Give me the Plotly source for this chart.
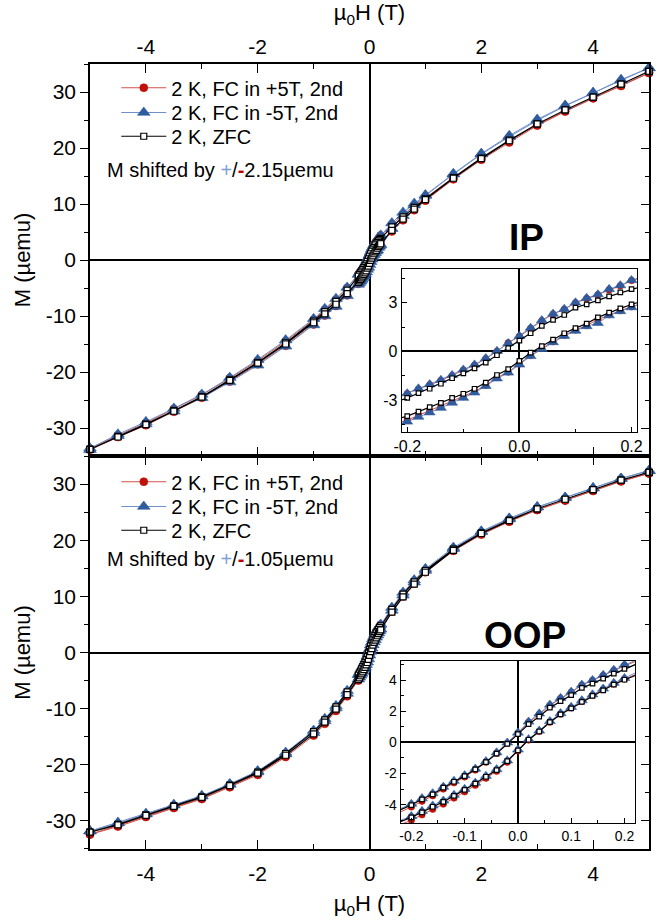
import plotly.graph_objects as go

# ---- field sweeps (T): descending branch +5 -> -5, ascending branch -5 -> +5
H_DOWN = [5, 4.5, 4, 3.5, 3, 2.5, 2, 1.5, 1, 0.8, 0.6, 0.4,
          0.2, 0.18, 0.16, 0.14, 0.12, 0.1, 0.08, 0.06, 0.04, 0.02, 0,
          -0.02, -0.04, -0.06, -0.08, -0.1, -0.12, -0.14, -0.16, -0.18, -0.2,
          -0.4, -0.6, -0.8, -1, -1.5, -2, -2.5, -3, -3.5, -4, -4.5, -5]
H_UP = [-5, -4.5, -4, -3.5, -3, -2.5, -2, -1.5, -1, -0.8, -0.6, -0.4,
        -0.2, -0.18, -0.16, -0.14, -0.12, -0.1, -0.08, -0.06, -0.04, -0.02, 0,
        0.02, 0.04, 0.06, 0.08, 0.1, 0.12, 0.14, 0.16, 0.18, 0.2,
        0.4, 0.6, 0.8, 1, 1.5, 2, 2.5, 3, 3.5, 4, 4.5, 5]

# ---- in-plane (IP) magnetization, µemu
IP_FCP_DOWN = [33.4, 31.1, 28.9, 26.6, 24.1, 21.3, 18.1, 14.7, 11.1, 9.7, 8.1, 6.3,
               4.38, 4.05, 3.8, 3.5, 3.27, 3.0, 2.6, 2.3, 1.89, 1.42, 0.93,
               0.53, 0.0, -0.45, -0.85, -1.16, -1.5, -1.8, -2.07, -2.33, -2.62,
               -5.0, -7.1, -8.9, -10.7, -14.5, -18.0, -21.1, -24.1, -26.6, -29.1, -31.3, -33.7]
IP_FCP_UP = [-33.9, -31.6, -29.5, -27.1, -24.6, -21.7, -18.6, -15.3, -11.5, -9.9, -8.2, -6.3,
             -4.25, -3.95, -3.68, -3.4, -3.1, -2.8, -2.48, -2.1, -1.62, -1.28, -0.78,
             -0.25, 0.18, 0.6, 1.0, 1.32, 1.6, 1.97, 2.27, 2.52, 2.76,
             5.1, 7.1, 8.9, 10.6, 14.4, 17.9, 21.0, 24.0, 26.5, 28.9, 31.1, 33.4]
IP_FCM_DOWN = [34.3, 32.1, 29.9, 27.6, 25.1, 22.2, 19.0, 15.4, 11.6, 10.1, 8.5, 6.6,
               4.4, 4.08, 3.85, 3.52, 3.3, 3.02, 2.62, 2.32, 1.92, 1.45, 0.95,
               0.5, 0.02, -0.43, -0.82, -1.13, -1.47, -1.77, -2.04, -2.3, -2.6,
               -4.9, -6.9, -8.7, -10.5, -14.3, -17.8, -21.0, -24.0, -26.5, -28.9, -31.1, -33.6]
IP_FCM_UP = [-33.9, -31.4, -29.3, -27.0, -24.6, -21.8, -18.8, -15.4, -11.6, -10.0, -8.3, -6.4,
             -4.35, -4.05, -3.78, -3.5, -3.18, -2.88, -2.55, -2.15, -1.68, -1.32, -0.82,
             -0.3, 0.14, 0.56, 0.95, 1.27, 1.55, 1.75, 2.22, 2.48, 2.72,
             5.6, 7.9, 9.8, 11.5, 15.3, 18.9, 22.0, 24.9, 27.5, 29.8, 32.2, 34.3]
IP_ZFC_DOWN = [33.7, 31.4, 29.1, 26.8, 24.3, 21.4, 18.2, 14.7, 10.9, 9.4, 7.7, 5.9,
               3.85, 3.65, 3.4, 3.15, 2.9, 2.7, 2.25, 1.95, 1.58, 1.12, 0.67,
               0.2, -0.24, -0.69, -1.05, -1.36, -1.66, -2.0, -2.31, -2.58, -2.88,
               -5.4, -7.4, -9.2, -10.9, -14.8, -18.3, -21.4, -24.4, -26.9, -29.3, -31.5, -33.8]
IP_ZFC_UP = [-33.8, -31.6, -29.4, -27.0, -24.5, -21.5, -18.4, -15.0, -11.2, -9.6, -7.9, -6.0,
             -4.0, -3.73, -3.45, -3.18, -2.88, -2.62, -2.31, -1.93, -1.46, -1.1, -0.59,
             -0.08, 0.32, 0.73, 1.12, 1.44, 1.72, 2.1, 2.4, 2.66, 2.9,
             5.3, 7.3, 9.1, 10.8, 14.6, 18.1, 21.3, 24.3, 26.8, 29.1, 31.4, 33.7]

# ---- out-of-plane (OOP) magnetization, µemu
OOP_FCP_DOWN = [31.9, 30.5, 28.8, 27.1, 25.4, 23.4, 21.1, 18.3, 14.6, 12.7, 10.5, 7.8,
                4.95, 4.62, 4.3, 3.98, 3.68, 3.22, 2.82, 2.38, 1.8, 1.3, 0.6,
                -0.05, -0.7, -1.28, -1.78, -2.22, -2.6, -3.0, -3.43, -3.78, -4.15,
                -7.3, -10.0, -12.3, -14.4, -18.4, -21.6, -23.9, -26.0, -27.6, -29.2, -30.9, -32.4]
OOP_FCP_UP = [-32.4, -31.0, -29.3, -27.7, -26.1, -24.0, -21.8, -18.6, -14.8, -12.7, -10.4, -7.8,
              -5.0, -4.66, -4.3, -3.97, -3.58, -3.18, -2.76, -2.3, -1.86, -1.27, -0.55,
              0.15, 0.7, 1.3, 1.82, 2.22, 2.65, 3.03, 3.4, 3.76, 4.07,
              7.3, 10.0, 12.3, 14.3, 18.1, 21.0, 23.3, 25.4, 27.1, 28.8, 30.5, 31.9]
OOP_FCM_DOWN = [32.4, 31.0, 29.3, 27.6, 25.9, 23.9, 21.6, 18.7, 14.9, 12.9, 10.7, 8.0,
                5.0, 4.66, 4.33, 4.0, 3.7, 3.25, 2.85, 2.42, 1.85, 1.33, 0.62,
                -0.02, -0.65, -1.22, -1.7, -2.12, -2.48, -2.86, -3.28, -3.6, -3.96,
                -6.8, -9.5, -11.8, -13.9, -17.8, -21.1, -23.4, -25.5, -27.1, -28.7, -30.3, -31.8]
OOP_FCM_UP = [-31.8, -30.4, -28.8, -27.2, -25.6, -23.5, -21.3, -18.1, -14.3, -12.2, -9.9, -7.3,
              -4.75, -4.42, -4.07, -3.75, -3.38, -3.0, -2.6, -2.16, -1.73, -1.17, -0.47,
              0.2, 0.75, 1.36, 1.87, 2.27, 2.7, 3.08, 3.45, 3.82, 4.13,
              7.5, 10.2, 12.5, 14.6, 18.5, 21.5, 23.8, 25.9, 27.6, 29.3, 31.0, 32.4]
OOP_ZFC_DOWN = [32.1, 30.7, 29.0, 27.3, 25.6, 23.6, 21.3, 18.4, 14.6, 12.6, 10.4, 7.7,
                4.73, 4.42, 4.1, 3.78, 3.5, 3.04, 2.65, 2.23, 1.66, 1.17, 0.53,
                -0.1, -0.72, -1.27, -1.74, -2.17, -2.53, -2.91, -3.34, -3.66, -4.03,
                -7.0, -9.7, -12.0, -14.1, -18.0, -21.3, -23.6, -25.7, -27.3, -28.9, -30.6, -32.0]
OOP_ZFC_UP = [-32.0, -30.7, -29.0, -27.4, -25.8, -23.7, -21.5, -18.3, -14.5, -12.4, -10.1, -7.5,
              -4.82, -4.5, -4.14, -3.82, -3.44, -3.06, -2.65, -2.21, -1.78, -1.21, -0.51,
              0.17, 0.7, 1.3, 1.8, 2.19, 2.61, 2.99, 3.35, 3.72, 4.03,
              7.2, 9.9, 12.2, 14.3, 18.2, 21.2, 23.5, 25.6, 27.3, 29.0, 30.7, 32.1]

SERIES_NAMES = ["2 K, FC in +5T, 2nd", "2 K, FC in -5T, 2nd", "2 K, ZFC"]
SHIFT_IP = "2.15"
SHIFT_OOP = "1.05"

# ---- tick values and labels
MAIN_X_TICKS = [-4, -2, 0, 2, 4]
MAIN_X_LABELS = ["-4", "-2", "0", "2", "4"]
MAIN_Y_TICKS = [-30, -20, -10, 0, 10, 20, 30]
MAIN_Y_LABELS = ["-30", "-20", "-10", "0", "10", "20", "30"]
IP_IN_X_TICKS = [-0.2, 0.0, 0.2]
IP_IN_X_LABELS = ["-0.2", "0.0", "0.2"]
IP_IN_Y_TICKS = [-3, 0, 3]
IP_IN_Y_LABELS = ["-3", "0", "3"]
OOP_IN_X_TICKS = [-0.2, -0.1, 0.0, 0.1, 0.2]
OOP_IN_X_LABELS = ["-0.2", "-0.1", "0.0", "0.1", "0.2"]
OOP_IN_Y_TICKS = [-4, -2, 0, 2, 4]
OOP_IN_Y_LABELS = ["-4", "-2", "0", "2", "4"]

FONT = "Liberation Sans, Arial, sans-serif"
RED, RED_LINE = "#C0100A", "#D6504A"
BLUE, BLUE_LINE = "#2F5C9E", "#6F90CC"

STYLES = [
    dict(marker=dict(symbol="circle", size=8, color=RED, line=dict(width=0.6, color=RED)),
         line=dict(color=RED_LINE, width=1)),
    dict(marker=dict(symbol="triangle-up", size=11, color=BLUE, line=dict(width=0.6, color=BLUE)),
         line=dict(color=BLUE_LINE, width=1)),
    dict(marker=dict(symbol="square", size=6, color="white", line=dict(width=1.2, color="black")),
         line=dict(color="black", width=1.2)),
]

# one single-entry legend per series so the rows sit at the chosen spacing
IP_LEGENDS = ["legend", "legend3", "legend4"]
OOP_LEGENDS = ["legend2", "legend5", "legend6"]

fig = go.Figure()


def add_loops(loops, xa, ya, legends, showlegend, main):
    for (m_down, m_up), style, name, lg in zip(loops, STYLES, SERIES_NAMES, legends):
        mk = dict(style["marker"])
        if not main:
            mk["size"] = mk["size"] - 1.5
        fig.add_trace(go.Scatter(
            x=H_DOWN + H_UP, y=m_down + m_up, mode="lines+markers",
            name=name, marker=mk, line=style["line"],
            xaxis=xa, yaxis=ya, legend=lg, showlegend=showlegend,
            cliponaxis=not main, hoverinfo="skip"))


IP_LOOPS = [(IP_FCP_DOWN, IP_FCP_UP), (IP_FCM_DOWN, IP_FCM_UP), (IP_ZFC_DOWN, IP_ZFC_UP)]
OOP_LOOPS = [(OOP_FCP_DOWN, OOP_FCP_UP), (OOP_FCM_DOWN, OOP_FCM_UP), (OOP_ZFC_DOWN, OOP_ZFC_UP)]

add_loops(IP_LOOPS, "x", "y", IP_LEGENDS, True, True)
add_loops(OOP_LOOPS, "x2", "y2", OOP_LEGENDS, True, True)
add_loops(IP_LOOPS, "x3", "y3", IP_LEGENDS, False, False)
add_loops(OOP_LOOPS, "x4", "y4", OOP_LEGENDS, False, False)

# empty traces carrying the inward right-hand tick axes
fig.add_trace(go.Scatter(x=[], y=[], xaxis="x", yaxis="y5", showlegend=False))
fig.add_trace(go.Scatter(x=[], y=[], xaxis="x2", yaxis="y6", showlegend=False))

TICKFONT = dict(family=FONT, size=21, color="black")
TITLEFONT = dict(family=FONT, size=22, color="black")

split = 0.5006
common_main = dict(showgrid=False, zeroline=True, zerolinecolor="black", zerolinewidth=1.8,
                   showline=True, linecolor="black", linewidth=1.5, tickfont=TICKFONT,
                   tickcolor="black", tickwidth=1.2)

xmain = dict(common_main, range=[-5, 5], tickmode="array", tickvals=MAIN_X_TICKS,
             ticktext=MAIN_X_LABELS, ticks="inside", ticklen=9, mirror="ticks",
             minor=dict(dtick=1, tick0=0, ticks="inside", ticklen=5, tickcolor="black"))
ymain = dict(common_main, range=[-35, 35], tickmode="array", tickvals=MAIN_Y_TICKS,
             ticktext=MAIN_Y_LABELS, ticks="outside", ticklen=8, mirror=True,
             title=dict(text="M (µemu)", font=TITLEFONT, standoff=9),
             minor=dict(dtick=5, tick0=0, ticks="outside", ticklen=4, tickcolor="black"))
yright = dict(range=[-35, 35], tickmode="array", tickvals=MAIN_Y_TICKS, ticks="inside",
              ticklen=8, tickcolor="black", tickwidth=1.2, showticklabels=False,
              showgrid=False, zeroline=False, showline=False, side="right",
              minor=dict(dtick=5, tick0=0, ticks="inside", ticklen=4, tickcolor="black"))

common_in = dict(showgrid=False, zeroline=True, zerolinecolor="black", zerolinewidth=1.6,
                 showline=True, linecolor="black", linewidth=1, mirror=True,
                 ticks="inside", ticklen=5, tickcolor="black", tickwidth=1)

LEGEND_FONT = dict(family=FONT, size=20, color="black")


def legend_at(ypix):
    return dict(x=0.047, y=(852 - ypix) / 793, xanchor="left", yanchor="middle",
                bgcolor="rgba(0,0,0,0)", font=LEGEND_FONT, itemwidth=45,
                tracegroupgap=0)


fig.update_layout(
    width=666, height=923,
    margin=dict(l=90, r=11, t=59, b=71),
    paper_bgcolor="white", plot_bgcolor="white",
    font=dict(family=FONT, color="black"),
    xaxis=dict(xmain, domain=[0, 1], anchor="y", side="top",
               title=dict(text="µ<sub>0</sub>H (T)", font=TITLEFONT, standoff=8)),
    yaxis=dict(ymain, domain=[split, 1], anchor="x"),
    xaxis2=dict(xmain, domain=[0, 1], anchor="y2", side="bottom", ticklabelstandoff=5,
                title=dict(text="µ<sub>0</sub>H (T)", font=TITLEFONT, standoff=12)),
    yaxis2=dict(ymain, domain=[0, split], anchor="x2"),
    yaxis5=dict(yright, overlaying="y", anchor="x"),
    yaxis6=dict(yright, overlaying="y2", anchor="x2"),
    xaxis3=dict(common_in, domain=[0.5575, 0.9788], anchor="y3", range=[-0.21, 0.21],
                tickmode="array", tickvals=IP_IN_X_TICKS, ticktext=IP_IN_X_LABELS,
                tickfont=dict(family=FONT, size=16, color="black"),
                minor=dict(dtick=0.1, tick0=0, ticks="inside", ticklen=3, tickcolor="black")),
    yaxis3=dict(common_in, domain=[0.5309, 0.739], anchor="x3", range=[-5.0, 5.1],
                tickmode="array", tickvals=IP_IN_Y_TICKS, ticktext=IP_IN_Y_LABELS,
                tickfont=dict(family=FONT, size=16, color="black"),
                minor=dict(dtick=1.5, tick0=0, ticks="inside", ticklen=3, tickcolor="black")),
    xaxis4=dict(common_in, domain=[0.5558, 0.9752], anchor="y4", range=[-0.22, 0.22],
                tickmode="array", tickvals=OOP_IN_X_TICKS, ticktext=OOP_IN_X_LABELS,
                tickfont=dict(family=FONT, size=14, color="black"),
                minor=dict(dtick=0.05, tick0=0, ticks="inside", ticklen=3, tickcolor="black")),
    yaxis4=dict(common_in, domain=[0.0328, 0.2396], anchor="x4", range=[-5.2, 5.24],
                tickmode="array", tickvals=OOP_IN_Y_TICKS, ticktext=OOP_IN_Y_LABELS,
                tickfont=dict(family=FONT, size=14, color="black"),
                minor=dict(dtick=1, tick0=0, ticks="inside", ticklen=3, tickcolor="black")),
    legend=legend_at(83),
    legend3=legend_at(108),
    legend4=legend_at(132),
    legend2=legend_at(481),
    legend5=legend_at(506),
    legend6=legend_at(530),
    showlegend=True,
)

PLUS = '<span style="color:#7F9FD4">+</span>'
MINUS = '<span style="color:#C00000"><b>-</b></span>'
for shift, ypix in [(SHIFT_IP, 166), (SHIFT_OOP, 559)]:
    fig.add_annotation(xref="paper", yref="paper", x=0.026, y=(852 - ypix) / 793,
                       xanchor="left", yanchor="middle", showarrow=False,
                       text=f"M shifted by {PLUS}/{MINUS}{shift}µemu",
                       font=dict(family=FONT, size=20, color="black"))

for label, xpos, ypos in [("IP", 0.78, 0.7793), ("OOP", 0.778, 0.2724)]:
    fig.add_annotation(xref="paper", yref="paper", x=xpos, y=ypos, xanchor="center",
                       yanchor="middle", showarrow=False, text=f"<b>{label}</b>",
                       font=dict(family=FONT, size=37, color="black"))

fig.write_html("out.html")
